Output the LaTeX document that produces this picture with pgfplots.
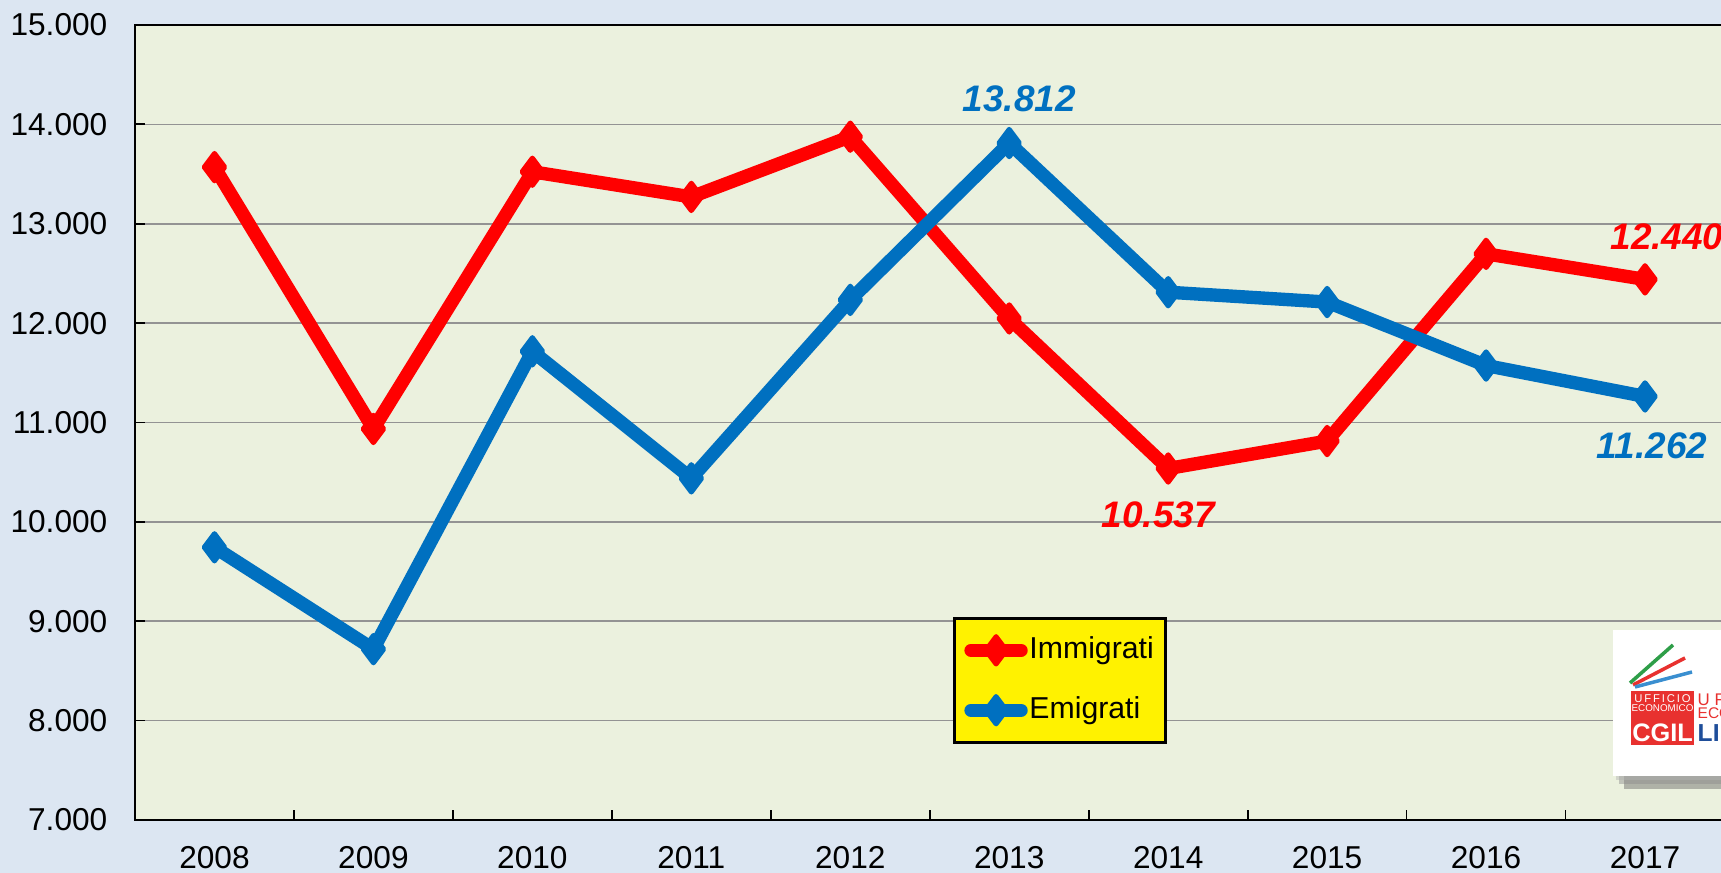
\documentclass[border=0pt]{standalone}
\usepackage{fontspec}
\setmainfont{Liberation Sans}
\usepackage{pgfplots}
\pgfplotsset{compat=1.18}
\definecolor{bgout}{HTML}{DCE6F2}
\definecolor{bgplot}{HTML}{EBF1DE}
\definecolor{ired}{HTML}{FF0000}
\definecolor{eblue}{HTML}{0070C0}
\definecolor{lgreen}{HTML}{2E9E48}
\definecolor{lred}{HTML}{E8312F}
\definecolor{lblue}{HTML}{3A8FD0}
\definecolor{lnavy}{HTML}{1F4E9A}

\pgfplotstableread{
x  imm    emi
0  13570  9744
1  10935  8719
2  13523  11716
3  13270  10438
4  13876  12234
5  12047  13812
6  10537  12311
7  10813  12212
8  12697  11573
9  12440  11262
}\datatab

\begin{document}
\begin{tikzpicture}[x=1cm,y=1cm]
\path[use as bounding box, fill=bgout] (0,0) rectangle (17.21,8.73);
\begin{axis}[
  at={(1.35cm,0.53cm)}, anchor=south west,
  width=15.895cm, height=7.95cm, scale only axis,
  xmin=-0.5, xmax=9.5, ymin=7000, ymax=15000,
  scaled y ticks=false, scaled x ticks=false,
  axis background/.style={fill=bgplot},
  axis line style={black, line width=0.8pt},
  xtick={0,...,9},
  xticklabels={2008,2009,2010,2011,2012,2013,2014,2015,2016,2017},
  minor xtick={0.5,1.5,...,8.5},
  xtick pos=bottom,
  major x tick style={draw=none},
  minor x tick style={black, line width=0.5pt},
  minor tick length=0.1cm,
  ytick={7000,8000,...,15000},
  yticklabels={7.000,8.000,9.000,10.000,11.000,12.000,13.000,14.000,15.000},
  ytick pos=left,
  tick align=inside,
  major tick length=0.1cm,
  major y tick style={black, line width=0.5pt},
  ymajorgrids,
  major grid style={gray!85, line width=0.45pt},
  ticklabel style={font=\fontsize{9}{10}\selectfont, inner sep=0pt},
  yticklabel style={anchor=east, xshift=-0.27cm},
  xticklabel style={anchor=north, yshift=-0.26cm},
  legend style={at={(0.5146,0.2557)}, anchor=north west,
    fill=yellow, draw=black, line width=0.8pt,
    font=\fontsize{8.6}{10}\selectfont,
    inner xsep=0.10cm, inner ysep=0.185cm, row sep=0.325cm,
    nodes={inner xsep=0.5pt, inner ysep=0pt},
    /tikz/every even column/.append style={column sep=0pt}},
  legend cell align=left,
  legend image code/.code={%
    \draw[#1, line cap=round, mark repeat=2, mark phase=2]
      plot coordinates {(0.04cm,0cm) (0.29cm,0cm) (0.54cm,0cm)};},
  clip=false,
]
\addplot[ired, line width=3.8pt, line join=round, line cap=round,
  mark=diamond*, mark size=3.9pt,
  mark options={solid, fill=ired, draw=ired, line width=1.4pt, line join=round}]
  table[x=x, y=imm] {\datatab};
\addlegendentry{Immigrati}
\addplot[eblue, line width=3.8pt, line join=round, line cap=round,
  mark=diamond*, mark size=3.9pt,
  mark options={solid, fill=eblue, draw=eblue, line width=1.4pt, line join=round}]
  table[x=x, y=emi] {\datatab};
\addlegendentry{Emigrati}

\begin{scope}[every node/.style={font=\fontsize{10.5}{12}\selectfont\bfseries\itshape, inner sep=0pt}]
\node[text=eblue, xshift=0.10cm, yshift=0.44cm] at (axis cs:5,13812) {13.812};
\node[text=ired, xshift=0.22cm, yshift=0.43cm] at (axis cs:9,12440) {12.440};
\node[text=ired, xshift=-0.10cm, yshift=-0.465cm] at (axis cs:6,10537) {10.537};
\node[text=eblue, xshift=0.07cm, yshift=-0.495cm] at (axis cs:9,11262) {11.262};
\end{scope}
\end{axis}

% logo (decoration, cropped at the right edge)
\fill[black!60, opacity=0.45] (16.24,0.84) rectangle (17.4,2.34);
\fill[black!45, opacity=0.45] (16.19,0.89) rectangle (17.4,2.38);
\fill[black!30, opacity=0.45] (16.16,0.93) rectangle (17.4,2.41);
\fill[white] (16.13,0.97) rectangle (17.4,2.43);
\draw[lgreen, line width=1pt] (16.30,1.90) -- (16.73,2.28);
\draw[lred, line width=1pt] (16.33,1.88) -- (16.85,2.15);
\draw[lblue, line width=1pt] (16.35,1.86) -- (16.92,2.01);
\fill[lred] (16.31,1.28) rectangle (16.94,1.82);
\node[text=white, font=\fontsize{3.2}{4}\selectfont, inner sep=0pt, anchor=north] at (16.625,1.795) {U\,F\,F\,I\,C\,I\,O};
\node[text=white, font=\fontsize{2.8}{3}\selectfont, inner sep=0pt, anchor=north] at (16.625,1.695) {ECONOMICO};
\node[text=white, font=\fontsize{7.2}{8}\selectfont\bfseries, inner sep=0pt, anchor=south] at (16.625,1.31) {CGIL};
\node[text=lred, font=\fontsize{4.8}{5}\selectfont, inner sep=0pt, anchor=north west] at (16.97,1.80) {U F};
\node[text=lred, font=\fontsize{4.4}{5}\selectfont, inner sep=0pt, anchor=north west] at (16.97,1.66) {ECO};
\node[text=lnavy, font=\fontsize{7}{8}\selectfont\bfseries, inner sep=0pt, anchor=south west] at (16.97,1.31) {LI};
\end{tikzpicture}
\end{document}
